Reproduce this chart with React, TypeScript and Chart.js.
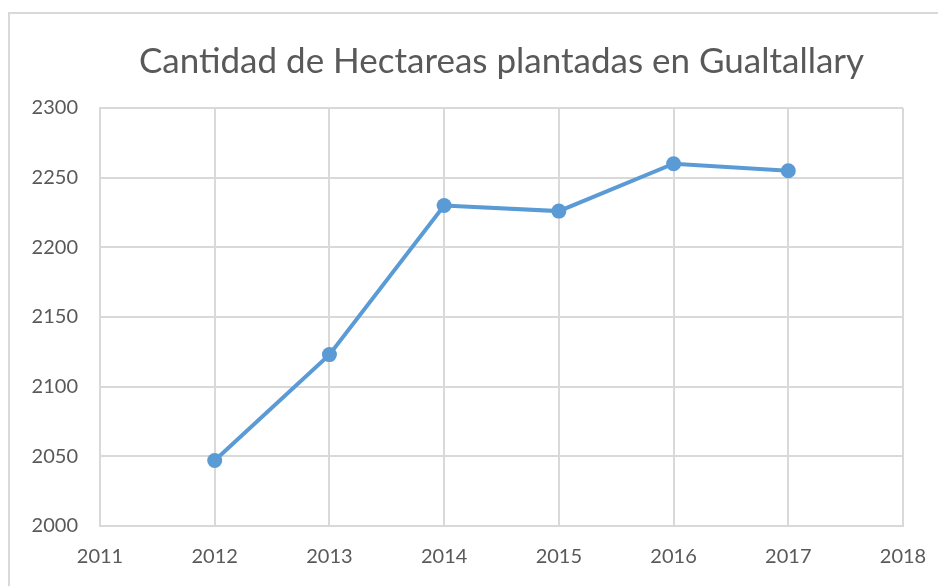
import React, { useEffect, useRef } from "react";
import { Chart, registerables } from "chart.js";

Chart.register(...registerables);

const titleText = "Cantidad de Hectareas plantadas en Gualtallary";
const years = [2012, 2013, 2014, 2015, 2016, 2017];
const hectareas = [2047, 2123, 2230, 2226, 2260, 2255];
const xMin = 2011;
const xMax = 2018;
const yMin = 2000;
const yMax = 2300;
const yStep = 50;

const FONT = "Lato, 'Open Sans', sans-serif";
const TEXT = "#595959";
const GRID = "#d9d9d9";
const LINE = "#5b9bd5";

export default function App() {
  const ref = useRef<HTMLCanvasElement | null>(null);

  useEffect(() => {
    if (!ref.current) return;
    const chart = new Chart(ref.current, {
      type: "scatter",
      data: {
        datasets: [
          {
            label: "Hectareas",
            data: years.map((y, i) => ({ x: y, y: hectareas[i] })),
            showLine: true,
            borderColor: LINE,
            backgroundColor: LINE,
            borderWidth: 4,
            pointRadius: 7.5,
            pointHoverRadius: 7.5,
            pointBorderWidth: 0,
            tension: 0,
          },
        ],
      },
      options: {
        animation: false,
        responsive: false,
        maintainAspectRatio: false,
        layout: { padding: { left: 0, right: 35, top: 0, bottom: 0 } },
        plugins: {
          legend: { display: false },
          tooltip: { enabled: false },
          title: {
            display: true,
            fullSize: false,
            text: titleText,
            color: TEXT,
            font: { family: FONT, size: 35, weight: "normal" },
            padding: { top: 41, bottom: 25 },
          },
        },
        scales: {
          x: {
            type: "linear",
            min: xMin,
            max: xMax,
            ticks: {
              stepSize: 1,
              color: TEXT,
              font: { family: FONT, size: 20 },
              padding: 19,
              callback: (v: any) => String(v),
            },
            grid: { color: GRID, lineWidth: 2, drawTicks: false },
            border: { color: GRID, width: 2 },
            afterFit: (scale: any) => {
              scale.height = 60;
              scale.paddingLeft = 0;
              scale.paddingRight = 0;
            },
          },
          y: {
            min: yMin,
            max: yMax,
            ticks: {
              stepSize: yStep,
              color: TEXT,
              font: { family: FONT, size: 20 },
              padding: 22,
              callback: (v: any) => String(v),
            },
            grid: { color: GRID, lineWidth: 2, drawTicks: false },
            border: { color: GRID, width: 2 },
            afterFit: (scale: any) => {
              scale.width = 100;
            },
          },
        },
      },
    });
    return () => chart.destroy();
  }, []);

  return (
    <div
      style={{
        position: "fixed",
        left: 0,
        top: 0,
        width: 938,
        height: 586,
        overflow: "hidden",
        background: "#fff",
      }}
    >
      <div
        style={{
          position: "absolute",
          left: 8,
          top: 12,
          width: 960,
          height: 620,
          border: "2px solid #d9d9d9",
          boxSizing: "border-box",
        }}
      />
      <canvas
        ref={ref}
        width={938}
        height={586}
        style={{ position: "absolute", left: 0, top: 0, width: 938, height: 586 }}
      />
    </div>
  );
}
